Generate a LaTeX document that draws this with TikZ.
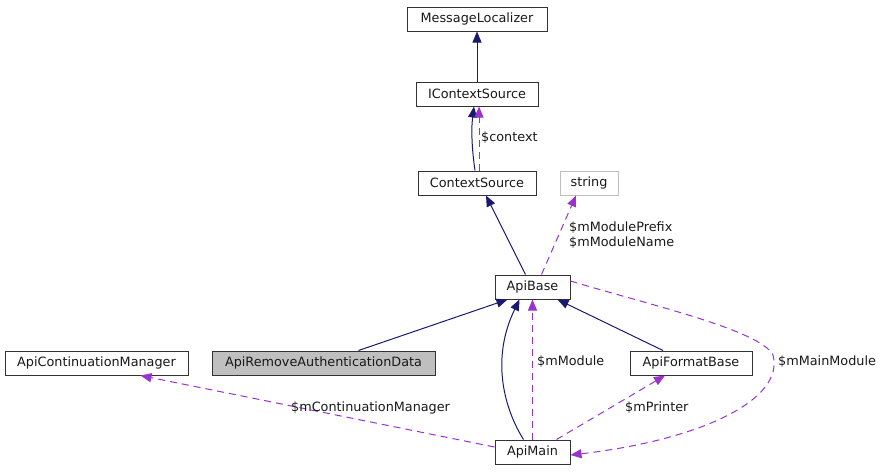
\documentclass[tikz,border=0pt]{standalone}
\usepackage{fontspec}
\setmainfont{DejaVu Sans}
\usetikzlibrary{arrows.meta}
\definecolor{inh}{HTML}{191970}
\definecolor{use}{HTML}{9A32CD}
\definecolor{grayfill}{HTML}{BFBFBF}
\tikzset{
  cls/.style={draw=black!80, line width=1pt, fill=white, minimum height=24pt, inner sep=0pt, font=\fontsize{12.8}{15}\selectfont, text=black!90},
  inhline/.style={draw=inh, line width=1pt, -{Triangle[length=11pt,width=9pt,fill=inh]}},
  useline/.style={draw=use, line width=1pt, dash pattern=on 7pt off 5pt, -{Triangle[length=11pt,width=9pt,fill=use]}},
  lbl/.style={font=\fontsize{12.8}{15}\selectfont, text=black!90, inner sep=0pt, anchor=west}
}
\begin{document}
\begin{tikzpicture}[x=1pt,y=-1pt]
\useasboundingbox (0,0) rectangle (883,472);
\node[cls, minimum width=140pt] (ML) at (477,19) {MessageLocalizer};
\node[cls, minimum width=122pt] (ICS) at (477,94) {IContextSource};
\node[cls, minimum width=118pt] (CS) at (477,183) {ContextSource};
\node[cls, minimum width=58pt, draw=grayfill] (STR) at (589,183) {string};
\node[cls, minimum width=75pt] (AB) at (532.5,287) {ApiBase};
\node[cls, minimum width=183pt] (ACM) at (96.5,363) {ApiContinuationManager};
\node[cls, minimum width=223pt, fill=grayfill] (ARAD) at (323.5,363) {ApiRemoveAuthenticationData};
\node[cls, minimum width=122pt] (AFB) at (691,363) {ApiFormatBase};
\node[cls, minimum width=75pt] (AM) at (532.5,452) {ApiMain};

% inheritance
\draw[inhline] (ICS.north) -- (ML.south);
\draw[inhline] ([xshift=-2pt]CS.north) .. controls (472,150) and (471,130) .. ([xshift=-3pt]ICS.south);
\draw[inhline] ([xshift=-7pt]AB.north) -- ([xshift=9pt]CS.south);
\draw[inhline] ([xshift=35pt]ARAD.north) -- ([xshift=-25pt]AB.south);
\draw[inhline] ([xshift=-28pt]AFB.north) -- ([xshift=25pt]AB.south);
\draw[inhline] ([xshift=-9pt]AM.north) .. controls (505,410) and (490,360) .. ([xshift=-13pt]AB.south);

% usage
\draw[useline] ([xshift=2pt]CS.north) -- ([xshift=2pt]ICS.south);
\node[lbl] (lctx) at (481,138) {\$context};
\draw[useline] ([xshift=9pt]AB.north) -- ([xshift=-13pt]STR.south);
\node[lbl, align=left] (lmp) at (569,235) {\$mModulePrefix\\\$mModuleName};
\draw[useline] (AM.north) -- (AB.south);
\node[lbl] (lmm) at (537,362) {\$mModule};
\draw[useline] ([xshift=24pt]AM.north) -- ([xshift=-26pt]AFB.south);
\node[lbl] (lmp2) at (625,408) {\$mPrinter};
\draw[useline] ([yshift=5pt]AM.west) -- ([xshift=44pt]ACM.south);
\node[lbl] (lcm) at (291,408) {\$mContinuationManager};
\draw[useline] ([yshift=6pt]AB.east) .. controls (650,305) and (760,330) .. (773,355) .. controls (785,400) and (700,440) .. ([yshift=-3pt]AM.east);
\node[lbl] (lmain) at (778,362) {\$mMainModule};
\end{tikzpicture}
\end{document}
